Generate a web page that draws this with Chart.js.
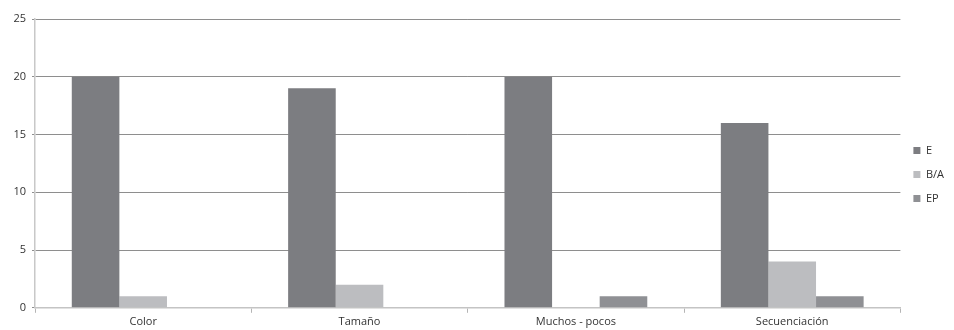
<!DOCTYPE html>
<html>
<head>
<meta charset="utf-8">
<script src="https://cdn.jsdelivr.net/npm/chart.js@4"></script>
<style>
  html, body { margin: 0; padding: 0; background: #fff; }
  #wrap { width: 954px; height: 330px; }
</style>
</head>
<body>
<div id="wrap"><canvas id="barChart"></canvas></div>
<script>
// categories and series
const categories = ['Color', 'Tamaño', 'Muchos - pocos', 'Secuenciación'];
const valuesE = [20, 19, 20, 16];
const valuesBA = [1, 2, 0, 4];
const valuesEP = [0, 0, 1, 1];
const yTicks = [0, 5, 10, 15, 20, 25];

const data = {
    labels: categories,
    datasets: [
        { label: 'E', data: valuesE, backgroundColor: '#7c7d81' },
        { label: 'B/A', data: valuesBA, backgroundColor: '#bcbdc0' },
        { label: 'EP', data: valuesEP, backgroundColor: '#8f9094' }
    ]
};

const config = {
    type: 'bar',
    data: data,
    options: {
        responsive: true,
        maintainAspectRatio: false,
        animation: false,
        layout: { padding: { top: 19, right: 0, left: 4, bottom: 0 } },
        datasets: {
            bar: { barPercentage: 1, categoryPercentage: 0.66 }
        },
        scales: {
            x: {
                offset: true,
                grid: {
                    drawOnChartArea: false,
                    drawTicks: true,
                    tickLength: 5,
                    color: '#b5b5b5',
                    offset: true
                },
                border: { color: '#c4c4c4', width: 1.5 },
                ticks: { color: '#333', font: { family: 'Open Sans', size: 11 }, padding: 2 }
            },
            y: {
                min: 0,
                max: 25,
                afterBuildTicks: function(axis) {
                    axis.ticks = yTicks.map(v => ({ value: v }));
                },
                afterFit: function(axis) { axis.width = 31; },
                grid: { color: '#8e8e8e', tickLength: 3 },
                border: { color: '#c8c8c8', width: 1.5 },
                ticks: { color: '#333', font: { family: 'Open Sans', size: 11 }, padding: 6 }
            }
        },
        plugins: {
            legend: {
                position: 'right',
                labels: {
                    boxWidth: 7,
                    boxHeight: 7,
                    padding: 13,
                    color: '#333',
                    font: { family: 'Open Sans', size: 11 }
                }
            },
            tooltip: { enabled: false }
        }
    }
};

window.onload = function() {
    const ctx = document.getElementById('barChart').getContext('2d');
    new Chart(ctx, config);
};
</script>
</body>
</html>
